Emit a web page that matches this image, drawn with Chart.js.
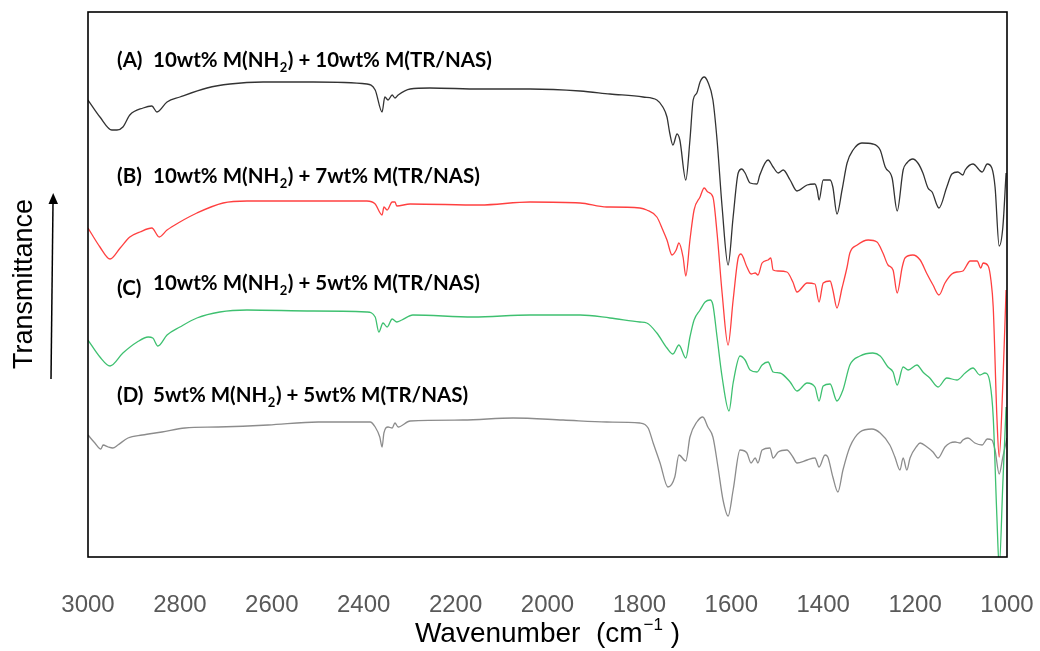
<!DOCTYPE html>
<html>
<head>
<meta charset="utf-8">
<title>FTIR spectra</title>
<script src="https://cdn.jsdelivr.net/npm/chart.js@4.4.1/dist/chart.umd.min.js"></script>
<style>
    html, body { margin: 0; padding: 0; background: #fff; }
    #wrap { width: 1040px; height: 651px; position: relative; }
</style>
</head>
<body>
<div id="wrap"><canvas id="ftirChart"></canvas></div>
<script>
// x axis ticks (cm-1)
const xTicks = [3000, 2800, 2600, 2400, 2200, 2000, 1800, 1600, 1400, 1200, 1000];

const sampleTags = ['(A)', '(B)', '(C)', '(D)'];
const sampleNames = [
    '10wt% M(NH2) + 10wt% M(TR/NAS)',
    '10wt% M(NH2) + 7wt% M(TR/NAS)',
    '10wt% M(NH2) + 5wt% M(TR/NAS)',
    '5wt% M(NH2) + 5wt% M(TR/NAS)'
];
const sampleColors = ['#333333', '#ff4040', '#3ec070', '#8c8c8c'];

// (A) 10wt% NH2 + 10wt% TR/NAS  -- offset transmittance, arbitrary units
const waveA = [3000, 2974, 2948, 2937, 2924, 2909, 2880, 2861, 2850, 2828, 2800, 2741, 2691, 2619, 2510, 2393, 2375, 2360, 2354, 2347, 2338, 2332, 2325, 2299, 2256, 2147, 2038, 1929, 1864, 1792, 1762, 1749, 1740, 1734, 1727, 1718, 1712, 1699, 1690, 1683, 1675, 1668, 1659, 1651, 1640, 1631, 1620, 1607, 1596, 1585, 1577, 1570, 1559, 1544, 1538, 1520, 1509, 1498, 1487, 1472, 1457, 1435, 1418, 1413, 1409, 1400, 1385, 1379, 1370, 1359, 1348, 1335, 1316, 1292, 1276, 1265, 1250, 1239, 1226, 1218, 1205, 1194, 1183, 1172, 1163, 1148, 1131, 1120, 1107, 1096, 1091, 1074, 1054, 1043, 1033, 1026, 1017, 1009, 1002];
const transA = [457, 440, 427, 427, 430, 442, 449, 451, 445, 455, 460, 469, 473, 475, 475, 473, 467, 445, 460, 457, 462, 459, 462, 468, 469, 468, 468, 466, 463, 460, 457, 450, 440, 424, 412, 423, 417, 377, 417, 457, 464, 475, 480, 475, 457, 417, 350, 292, 340, 384, 388, 384, 374, 373, 382, 397, 390, 384, 387, 377, 366, 372, 373, 367, 357, 377, 377, 370, 343, 367, 394, 407, 414, 413, 407, 390, 379, 346, 387, 394, 398, 394, 384, 369, 365, 349, 370, 383, 385, 382, 387, 393, 385, 393, 389, 370, 311, 330, 384];

// (B) 10wt% NH2 + 7wt% TR/NAS
const waveB = [3000, 2974, 2952, 2930, 2909, 2887, 2861, 2845, 2828, 2800, 2763, 2706, 2654, 2510, 2393, 2375, 2360, 2356, 2349, 2338, 2332, 2328, 2299, 2147, 2038, 1929, 1871, 1864, 1799, 1784, 1762, 1749, 1740, 1729, 1720, 1714, 1705, 1699, 1690, 1681, 1668, 1659, 1651, 1640, 1631, 1620, 1607, 1596, 1585, 1579, 1566, 1557, 1548, 1542, 1533, 1520, 1514, 1509, 1498, 1479, 1466, 1457, 1435, 1418, 1409, 1400, 1385, 1379, 1370, 1359, 1348, 1342, 1326, 1302, 1283, 1270, 1259, 1248, 1239, 1228, 1222, 1205, 1189, 1174, 1161, 1148, 1135, 1120, 1109, 1096, 1080, 1065, 1057, 1052, 1041, 1035, 1030, 1022, 1017, 1009, 1002];
const transB = [329, 310, 298, 309, 320, 325, 329, 320, 327, 335, 344, 354, 356, 356, 356, 353, 342, 350, 347, 355, 355, 351, 353, 352, 355, 354, 350, 350, 349, 347, 340, 327, 317, 302, 307, 314, 300, 281, 317, 347, 360, 369, 365, 360, 324, 264, 212, 257, 299, 303, 290, 283, 284, 282, 294, 297, 299, 287, 286, 285, 275, 265, 274, 273, 255, 274, 276, 267, 249, 269, 290, 304, 312, 317, 315, 304, 292, 287, 264, 290, 299, 302, 297, 283, 272, 262, 274, 283, 285, 286, 296, 296, 289, 294, 291, 277, 250, 140, 100, 174, 267];

// (C) 10wt% NH2 + 5wt% TR/NAS
const waveC = [3000, 2974, 2952, 2924, 2893, 2869, 2859, 2848, 2828, 2800, 2763, 2713, 2654, 2510, 2393, 2375, 2367, 2358, 2349, 2338, 2328, 2317, 2293, 2162, 2038, 1929, 1864, 1799, 1784, 1762, 1740, 1727, 1714, 1699, 1690, 1681, 1668, 1657, 1646, 1640, 1631, 1620, 1605, 1596, 1581, 1570, 1559, 1544, 1533, 1520, 1509, 1494, 1472, 1457, 1435, 1418, 1409, 1400, 1385, 1370, 1357, 1342, 1320, 1292, 1276, 1259, 1248, 1239, 1226, 1215, 1196, 1183, 1168, 1150, 1131, 1109, 1091, 1074, 1059, 1048, 1037, 1030, 1022, 1017, 1009, 1002];
const transC = [217, 200, 191, 204, 215, 220, 219, 211, 222, 230, 239, 245, 247, 246, 245, 240, 225, 234, 230, 238, 235, 237, 242, 240, 242, 242, 239, 235, 234, 224, 209, 203, 212, 199, 220, 237, 247, 255, 257, 252, 220, 180, 146, 174, 201, 197, 187, 185, 192, 195, 185, 184, 175, 166, 174, 170, 156, 171, 173, 156, 167, 192, 201, 204, 201, 190, 185, 172, 190, 187, 192, 185, 179, 170, 179, 177, 184, 189, 182, 184, 174, 140, 40, -10, 74, 150];

// (D) 5wt% NH2 + 5wt% TR/NAS
const waveD = [3000, 2985, 2972, 2967, 2956, 2946, 2935, 2913, 2882, 2839, 2789, 2717, 2608, 2499, 2473, 2386, 2375, 2365, 2360, 2356, 2347, 2338, 2332, 2325, 2299, 2184, 2075, 1966, 1871, 1799, 1781, 1770, 1755, 1738, 1723, 1714, 1699, 1690, 1675, 1662, 1651, 1640, 1629, 1618, 1607, 1596, 1581, 1566, 1557, 1548, 1542, 1533, 1516, 1509, 1498, 1479, 1466, 1457, 1435, 1418, 1409, 1396, 1390, 1379, 1368, 1357, 1342, 1320, 1294, 1276, 1255, 1244, 1233, 1226, 1218, 1211, 1196, 1189, 1174, 1161, 1150, 1135, 1124, 1113, 1102, 1096, 1085, 1070, 1054, 1043, 1033, 1026, 1017, 1009, 1000];
const transD = [122, 114, 108, 112, 110, 109, 112, 119, 122, 125, 129, 130, 132, 135, 135, 135, 130, 120, 110, 124, 130, 129, 134, 130, 136, 137, 139, 137, 135, 134, 129, 114, 94, 70, 80, 102, 96, 120, 135, 140, 130, 120, 90, 57, 41, 67, 107, 104, 94, 99, 94, 107, 109, 99, 105, 107, 100, 94, 97, 99, 90, 102, 100, 80, 65, 87, 110, 125, 128, 124, 112, 100, 87, 99, 87, 99, 111, 114, 110, 105, 99, 110, 114, 115, 114, 117, 119, 114, 112, 118, 117, 107, 83, 100, 119];

const labelBaselines = [67, 183, 290, 402];
const labelSize = 20.5;

function toPoints(waves, trans) {
    return waves.map((w, i) => ({ x: w, y: trans[i] }));
}

function drawSampleName(ctx, text, x, y, size) {
    const parts = text.split('NH2');
    let cx = x;
    parts.forEach((p, i) => {
        ctx.font = 'bold ' + size + 'px Lato';
        ctx.fillText(p, cx, y);
        cx += ctx.measureText(p).width;
        if (i < parts.length - 1) {
            ctx.fillText('NH', cx, y);
            cx += ctx.measureText('NH').width;
            ctx.font = 'bold ' + Math.round(size * 0.65) + 'px Lato';
            ctx.fillText('2', cx + 0.5, y + 5);
            cx += ctx.measureText('2').width + 1;
        }
    });
}

const decorations = {
    id: 'decorations',
    afterDatasetsDraw(chart) {
        const { ctx, chartArea: a } = chart;
        ctx.save();

        // plot frame
        ctx.strokeStyle = '#000';
        ctx.lineWidth = 1.6;
        ctx.strokeRect(a.left, a.top, a.right - a.left, a.bottom - a.top);

        // sample labels
        ctx.fillStyle = '#000';
        ctx.textBaseline = 'alphabetic';
        ctx.textAlign = 'left';
        sampleTags.forEach((tag, i) => {
            const y = labelBaselines[i];
            ctx.font = 'bold ' + labelSize + 'px Lato';
            ctx.fillText(tag, 117, i === 2 ? y + 5 : y);
            drawSampleName(ctx, sampleNames[i], 153, y, labelSize);
        });

        // y axis title + arrow
        ctx.save();
        ctx.translate(25, 284);
        ctx.rotate(-Math.PI / 2);
        ctx.font = '27px "Liberation Sans"';
        ctx.textAlign = 'center';
        ctx.textBaseline = 'middle';
        ctx.fillStyle = '#000';
        ctx.fillText('Transmittance', 0, 0);
        ctx.restore();

        ctx.strokeStyle = '#000';
        ctx.lineWidth = 1.5;
        ctx.beginPath();
        ctx.moveTo(51, 379);
        ctx.lineTo(53, 203);
        ctx.stroke();
        ctx.beginPath();
        ctx.moveTo(53.2, 193);
        ctx.lineTo(48.5, 204);
        ctx.lineTo(58, 204);
        ctx.closePath();
        ctx.fill();

        // x axis title
        ctx.font = '28px "Liberation Sans"';
        ctx.textAlign = 'left';
        ctx.textBaseline = 'alphabetic';
        const t1 = 'Wavenumber  (cm';
        const w1 = ctx.measureText(t1).width;
        ctx.font = '17px "Liberation Sans"';
        const w2 = ctx.measureText('\u22121').width;
        ctx.font = '28px "Liberation Sans"';
        const w3 = ctx.measureText(' )').width;
        let x0 = 547 - (w1 + w2 + w3) / 2;
        ctx.fillText(t1, x0, 642);
        ctx.font = '17px "Liberation Sans"';
        ctx.fillText('\u22121', x0 + w1 + 1, 630);
        ctx.font = '28px "Liberation Sans"';
        ctx.fillText(' )', x0 + w1 + w2 + 1, 642);

        ctx.restore();
    }
};

function createFtirChart() {
    const ctx = document.getElementById('ftirChart').getContext('2d');

    const series = [
        toPoints(waveA, transA),
        toPoints(waveB, transB),
        toPoints(waveC, transC),
        toPoints(waveD, transD)
    ];

    const myChart = new Chart(ctx, {
        type: 'line',
        data: {
            datasets: series.map((pts, i) => ({
                label: sampleTags[i] + ' ' + sampleNames[i],
                data: pts,
                borderColor: sampleColors[i],
                borderWidth: 1.3,
                pointRadius: 0,
                cubicInterpolationMode: 'monotone',
                fill: false
            }))
        },
        options: {
            responsive: true,
            maintainAspectRatio: false,
            animation: false,
            layout: { padding: { left: 88, right: 33, top: 12, bottom: 0 } },
            plugins: {
                legend: { display: false },
                tooltip: { enabled: false }
            },
            scales: {
                x: {
                    type: 'linear',
                    reverse: true,
                    min: 1000,
                    max: 3000,
                    grid: { display: false, drawTicks: false },
                    border: { display: false },
                    afterBuildTicks: (scale) => { scale.ticks = xTicks.map(v => ({ value: v })); },
                    afterFit: (scale) => {
                        scale.height = 94;
                        scale.paddingLeft = 0;
                        scale.paddingRight = 0;
                    },
                    ticks: {
                        color: '#595959',
                        padding: 34,
                        maxRotation: 0,
                        autoSkip: false,
                        callback: (v) => String(v),
                        font: { family: 'Liberation Sans', size: 24 }
                    }
                },
                y: {
                    display: false,
                    min: 0,
                    max: 545
                }
            }
        },
        plugins: [decorations]
    });
}

createFtirChart();
</script>
</body>
</html>
